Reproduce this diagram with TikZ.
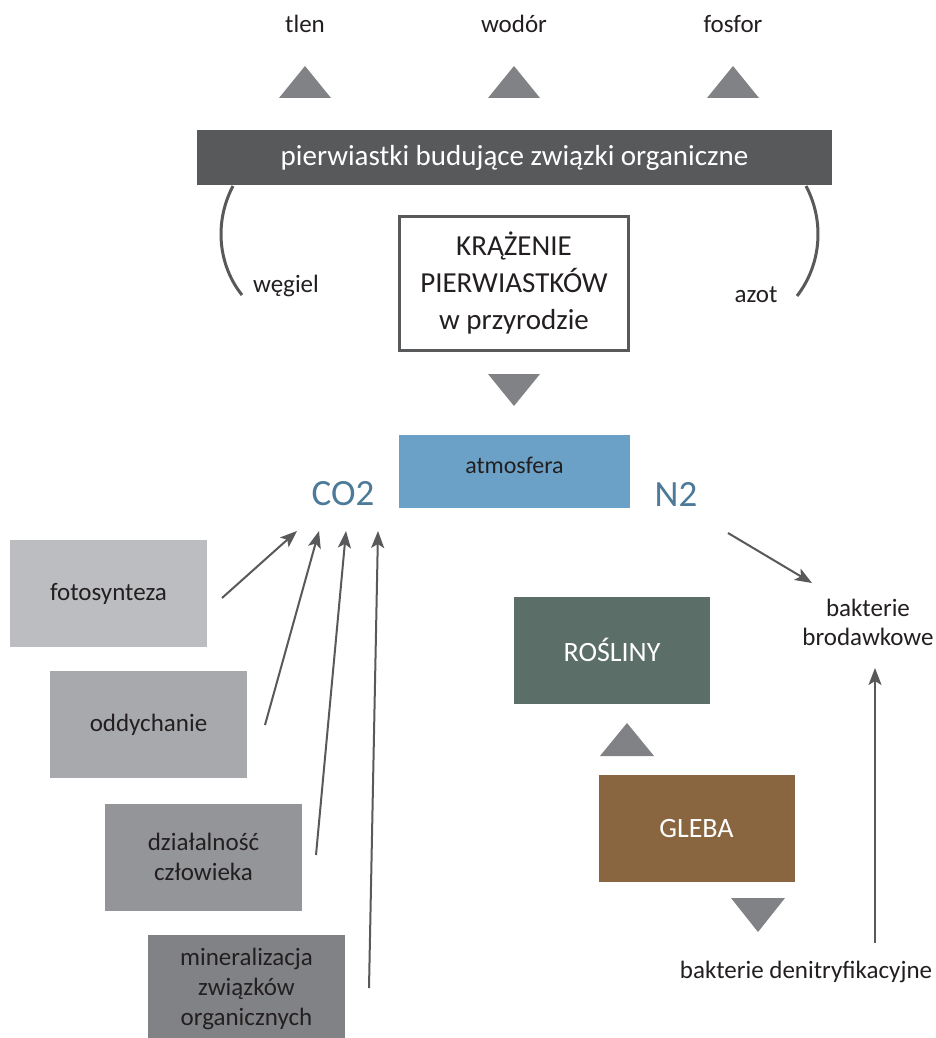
\documentclass[tikz,border=0pt]{standalone}
\usepackage{fontspec}
\setmainfont{Carlito}
\usepackage{xcolor}
\usetikzlibrary{arrows.meta,positioning}
\definecolor{bardark}{HTML}{58595B}
\definecolor{trigray}{HTML}{808285}
\definecolor{txtdark}{HTML}{231F20}
\definecolor{atmoblue}{HTML}{6BA1C6}
\definecolor{gasblue}{HTML}{4C7A98}
\definecolor{fotogray}{HTML}{BCBDC0}
\definecolor{oddgray}{HTML}{A7A9AC}
\definecolor{dzialgray}{HTML}{939598}
\definecolor{minergray}{HTML}{808285}
\definecolor{roslgreen}{HTML}{5B6E68}
\definecolor{glebabrown}{HTML}{8A6640}
\tikzset{
	txtlabel/.style={inner sep=0pt, align=center, text=txtdark,
			font=\fontsize{25}{29}\selectfont},
	sourcebox/.style={rectangle, minimum width=197, minimum height=107,
			inner sep=0pt, align=center, text=txtdark,
			font=\fontsize{25}{30}\selectfont},
	bigbox/.style={rectangle, minimum width=196, minimum height=107,
			inner sep=0pt, text=white, font=\fontsize{28}{34}\selectfont},
	gas/.style={inner sep=0pt, text=gasblue, font=\fontsize{37}{40}\selectfont},
	tri/.style={fill=trigray},
	arrowline/.style={draw=bardark, line width=2pt,
			-{Stealth[length=17pt, width=13pt, inset=4pt]}},
	arcline/.style={draw=bardark, line width=3pt}
}

\begin{document}
\begin{tikzpicture}[x=1pt, y=-1pt]
	\useasboundingbox[fill=white] (0,0) rectangle (935,1038);

	% top elements
	\foreach \name/\xx in {tlen/305, wodór/514, fosfor/733}{
			\node[txtlabel] at (\xx,24) {\name};
			\fill[tri] (\xx-26,98) -- (\xx,66) -- (\xx+26,98) -- cycle;
		}
	\node[rectangle, fill=bardark, minimum width=635, minimum height=55,
		inner sep=0pt, text=white, font=\fontsize{29}{32}\selectfont]
	(bar) at (514.5,157.5) {pierwiastki budujące związki organiczne};

	\draw[arcline] (233,186) .. controls (214,222) and (218,265) .. (242,295);
	\draw[arcline] (806,186) .. controls (825,222) and (821,265) .. (797,296);
	\node[txtlabel] (wegiel) at (286,286) {węgiel};
	\node[txtlabel] (azot) at (756,295) {azot};

	\node[draw=bardark, line width=3pt, fill=white, minimum width=229,
		minimum height=134, inner sep=0pt, align=center, text=txtdark,
		font=\fontsize{29}{37}\selectfont]
	(title) at (514,283.5) {KRĄŻENIE\\PIERWIASTKÓW\\w przyrodzie};
	\fill[tri] (488,374) -- (540,374) -- (514,406) -- cycle;

	% atmosphere
	\node[rectangle, fill=atmoblue, minimum width=231, minimum height=73,
		inner sep=0pt, text=txtdark, font=\fontsize{24}{29}\selectfont,
		text depth=12pt]
	(atmo) at (514.5,471.5) {atmosfera};
	\node[gas] (co2) at (343,494) {CO2};
	\node[gas] (n2) at (676,494) {N2};

	% carbon sources
	\node[sourcebox, fill=fotogray] (foto) at (108.5,593.5) {fotosynteza};
	\node[sourcebox, fill=oddgray] (odd) at (148.5,724.5) {oddychanie};
	\node[sourcebox, fill=dzialgray] (dzial) at (203.5,857) {działalność\\człowieka};
	\node[sourcebox, fill=minergray] (miner) at (246.5,988.5)
	{mineralizacja\\związków\\organicznych};

	\coordinate (foto out) at (222,598);
	\coordinate (odd out) at (265,725);
	\coordinate (dzial out) at (316,855);
	\coordinate (miner out) at (369,988);
	\coordinate (co2 a) at (297,531);
	\coordinate (co2 b) at (319,531);
	\coordinate (co2 c) at (346,531);
	\coordinate (co2 d) at (378,531);
	\draw[arrowline] (foto out) -- (co2 a);
	\draw[arrowline] (odd out) -- (co2 b);
	\draw[arrowline] (dzial out) -- (co2 c);
	\draw[arrowline] (miner out) -- (co2 d);

	% nitrogen
	\node[bigbox, fill=roslgreen] (rosl) at (612,650) {ROŚLINY};
	\fill[tri] (600,756) -- (627,723) -- (654,756) -- cycle;
	\node[bigbox, fill=glebabrown] (gleba) at (696.5,828.5) {GLEBA};
	\fill[tri] (731,898) -- (785,898) -- (758,932) -- cycle;

	\node[txtlabel] (brod) at (868,622) {bakterie\\brodawkowe};
	\node[txtlabel] (denit) at (806,972) {bakterie denitryfikacyjne};
	\coordinate (n2 out) at (728,533);
	\coordinate (brod in) at (812,583);
	\coordinate (denit out) at (875,943);
	\coordinate (brod low) at (875,668);
	\draw[arrowline] (n2 out) -- (brod in);
	\draw[arrowline] (denit out) -- (brod low);
\end{tikzpicture}
\end{document}
